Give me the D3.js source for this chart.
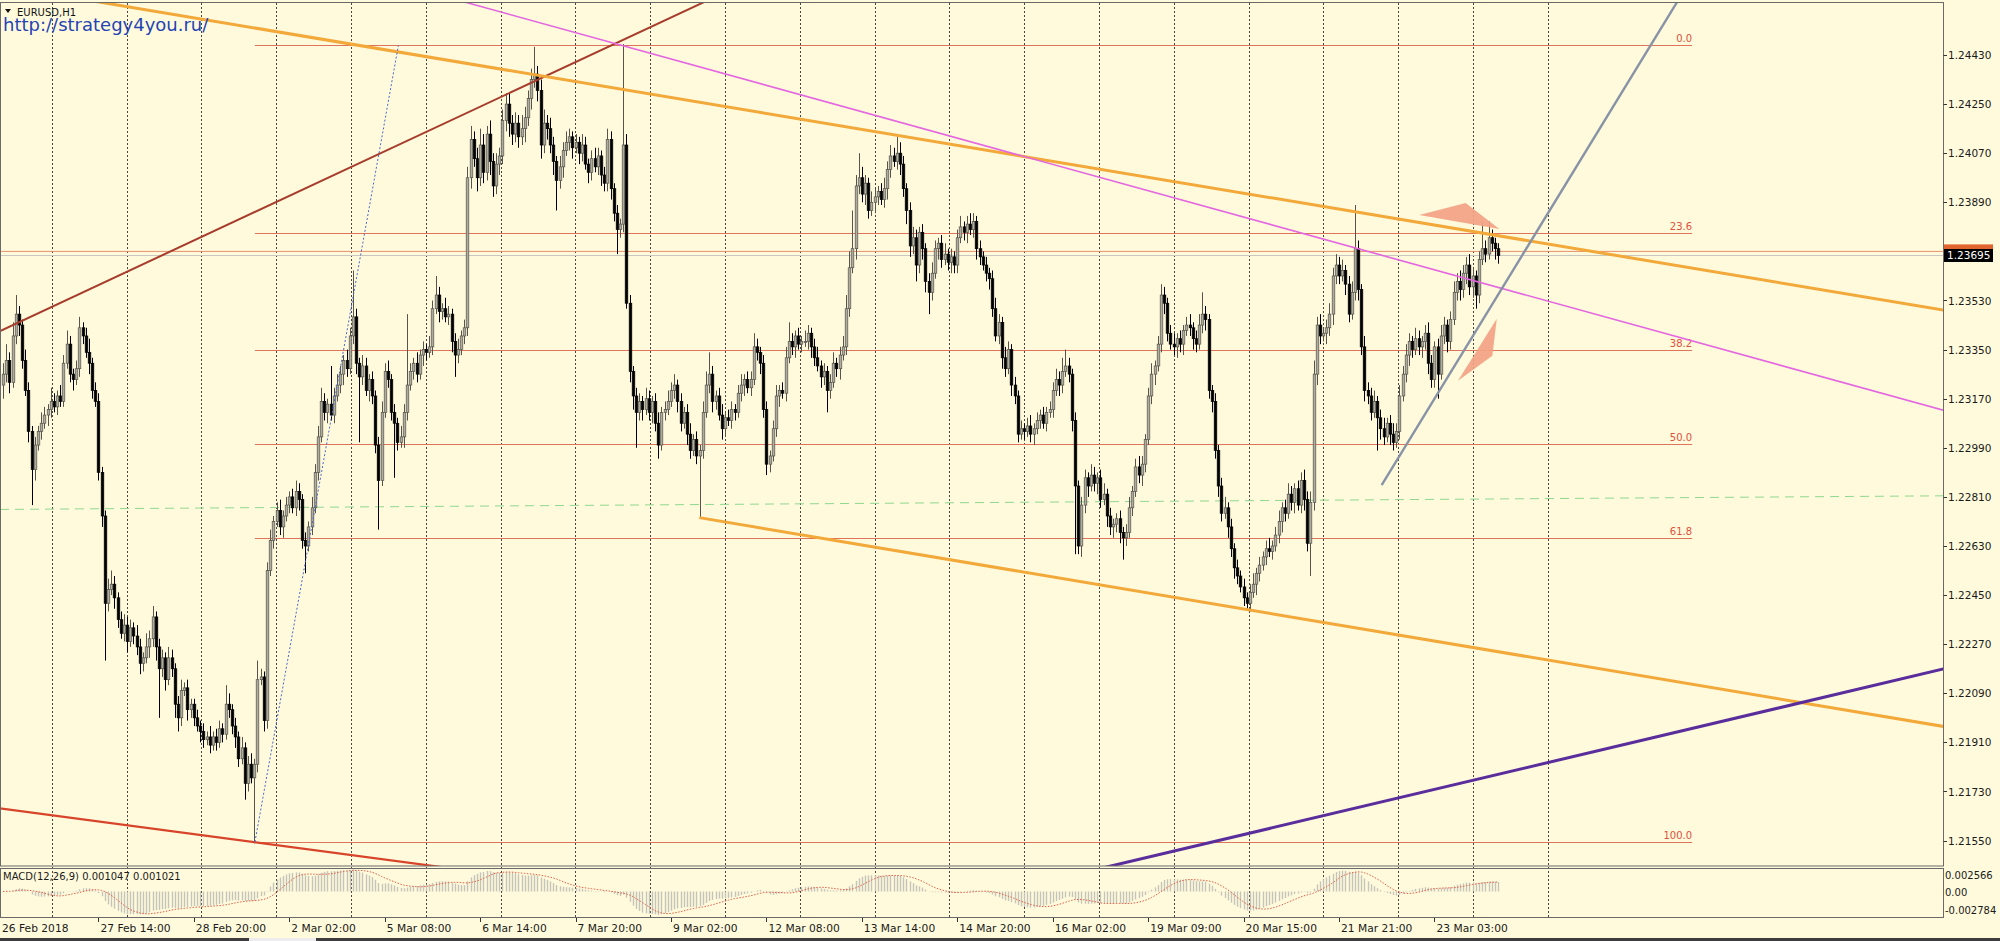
<!DOCTYPE html>
<html><head><meta charset="utf-8">
<script src="https://cdn.jsdelivr.net/npm/d3@7"></script>
<style>body{margin:0;background:#fffadc;overflow:hidden}svg{display:block;font-family:"DejaVu Sans",sans-serif}</style>
</head><body><svg id="c" width="2000" height="941"></svg>
<script>
// ---- DATA (prices in pips above 1.2000, H1 bars) ----
const firstOpen = 322;
const closes = [
326,331,323,340,348,344,331,320,305,291, 300,305,308,311,313,316,314,318,316,330,
337,326,324,328,343,340,334,330,320,316, 290,274,242,247,249,244,236,231,234,228,
233,230,226,220,222,226,229,237,226,218, 222,214,222,218,205,200,210,211,203,205,
200,197,195,192,193,190,193,191,196,194, 205,203,197,193,185,189,176,183,178,183,
214,215,199,254,265,272,276,270,274,278, 281,277,283,280,265,263,270,277,290,303,
316,312,315,311,318,322,326,331,328,340, 347,330,325,329,320,324,318,300,287,312,
327,324,312,308,301,303,312,322,327,330, 326,333,335,334,336,350,355,349,350,347,
348,338,333,335,340,343,398,412,405,398, 410,400,414,404,395,403,406,419,425,418,
414,418,413,416,420,427,434,436,430,410, 418,416,410,404,397,402,408,411,413,409,
411,407,410,403,400,405,402,406,399,396, 412,394,385,379,381,410,352,327,318,312,
316,313,317,312,316,308,300,312,313,316, 320,322,316,308,312,304,298,302,296,298,
312,322,326,316,318,311,306,310,309,313, 312,319,322,324,321,324,336,334,330,313,
293,296,306,318,320,319,332,338,336,340, 337,338,338,341,336,332,329,325,327,320,
323,330,328,333,336,350,365,372,395,398, 392,396,386,389,391,393,390,394,401,406,
404,407,403,394,386,373,376,366,378,372, 360,356,363,372,374,368,370,367,369,366,
376,380,378,381,379,382,372,369,366,363, 361,350,340,345,332,328,335,322,318,304,
306,305,307,304,306,309,311,308,312,313, 320,324,322,327,329,326,309,285,263,278,
288,285,289,286,288,280,282,274,270,271, 273,268,266,268,277,283,292,289,293,302,
318,326,329,337,355,352,341,337,336,339, 337,342,344,343,339,337,344,348,346,320,
316,298,285,275,277,270,262,255,252,248, 244,242,246,249,253,256,259,262,261,263,
267,272,277,275,282,279,284,278,287,280, 264,279,326,344,340,341,343,348,362,366,
362,364,359,348,356,372,357,336,320,318, 312,316,310,306,303,308,304,301,305,318,
326,333,338,335,339,336,338,341,330,324, 336,326,340,344,338,346,356,360,357,363,
366,358,362,355,368,372,370,376,374,372, 369.5];
const wickUp = [
4,6,3,5,7,3,2,4,3,2, 3,2,4,3,2,5,3,2,4,3, 5,3,2,3,4,2,3,5,2,3, 3,2,2,4,5,3,2,3,4,3,
3,2,4,3,2,5,3,4,2,3, 3,2,4,3,2,3,4,2,3,2, 2,3,2,3,2,4,2,3,3,2, 7,4,2,3,2,4,2,3,4,2,
7,3,2,3,4,2,3,4,2,3, 2,3,4,3,2,3,2,4,3,4, 5,3,2,14,3,4,3,2,4,3, 17,3,2,4,3,2,3,2,3,4,
3,4,2,3,2,4,3,26,3,2, 4,2,3,2,4,3,7,3,2,4, 3,2,3,4,2,3,4,5,3,4, 6,4,3,5,3,4,3,4,4,4,
3,4,3,5,4,3,4,10,3,4, 5,3,4,3,2,4,3,4,3,2, 3,2,4,3,2,3,4,3,2,3, 4,3,2,3,2,37,4,3,2,3,
3,2,4,3,2,3,4,2,3,4, 3,4,2,3,2,3,4,2,3,2, 4,5,8,3,2,3,4,2,3,3, 2,3,4,2,3,3,5,3,2,3,
3,2,3,4,2,3,4,7,3,2, 3,2,4,3,2,3,4,2,3,2, 3,4,2,3,4,5,6,14,4,9, 4,3,2,4,3,2,3,4,3,4,
3,6,4,3,2,3,4,3,2,3, 2,3,4,3,2,3,4,2,3,2, 3,4,2,3,4,3,2,3,2,3, 2,3,4,3,2,4,3,2,3,2,
3,2,3,4,2,3,2,3,2,3, 3,4,3,5,6,3,2,3,2,3, 3,2,4,3,2,3,4,2,3,2, 2,3,2,3,4,2,3,4,3,2,
3,4,2,3,4,3,2,3,4,2, 3,2,3,4,2,3,4,8,3,2, 2,3,2,3,4,2,3,2,3,2, 3,2,3,4,2,3,2,3,4,2,
3,4,2,3,4,3,2,3,3,4, 3,4,5,3,4,2,3,4,3,4, 3,4,2,3,4,16,3,2,4,3, 3,4,2,3,4,2,3,4,3,4,
3,4,3,2,4,3,2,3,4,3, 2,3,4,3,2,3,4,3,4,3, 3,4,3,2,3,10,3,6,3,2, 2];
const wickDn = [
5,3,4,2,3,4,3,2,4,13, 4,2,3,2,4,3,2,3,2,2, 2,3,4,2,3,3,2,4,3,2, 3,4,21,3,2,4,3,2,3,4,
2,3,3,4,3,2,4,3,5,18, 3,4,2,3,5,5,3,2,4,3, 3,2,4,3,2,3,2,3,2,3, 2,3,3,4,3,2,6,3,2,24,
3,2,4,3,2,3,2,3,4,2, 3,2,3,4,3,10,2,3,2,3, 2,3,4,2,3,2,3,4,3,2, 3,4,24,3,2,4,3,3,18,2,
2,3,3,20,3,2,4,3,2,3, 3,2,4,3,2,3,2,4,3,2, 3,4,8,3,2,3,3,4,3,5, 3,4,3,5,4,3,4,3,4,5,
4,3,4,3,5,3,4,3,4,5, 3,4,3,5,11,3,4,2,3,4, 2,4,3,2,4,3,2,3,4,3, 3,4,3,9,3,3,2,4,5,13,
3,4,2,3,4,3,5,2,3,2, 2,3,4,3,2,4,3,2,3,23, 3,2,3,4,3,2,4,3,2,3, 3,2,3,4,2,3,2,3,4,3,
4,3,2,3,4,2,3,2,3,4, 2,3,2,3,4,3,2,4,3,8, 3,2,3,4,2,3,3,2,4,3, 3,4,3,2,4,3,2,3,4,3,
2,3,4,3,5,4,3,6,3,4, 4,8,3,2,4,3,2,3,4,3, 3,2,3,4,2,3,4,3,2,3, 4,3,2,3,4,3,2,4,3,3,
2,3,2,3,4,2,3,2,3,2, 3,2,4,3,2,3,4,25,3,4, 3,4,2,3,4,3,2,4,3,4, 3,4,8,3,2,3,2,3,4,3,
2,3,4,2,3,4,3,2,3,4, 3,4,2,3,4,3,2,3,4,3, 4,3,4,3,2,4,3,4,3,2, 3,2,3,2,4,3,2,3,2,3,
2,3,4,3,2,3,4,2,3,4, 3,12,3,4,3,2,4,3,4,3, 3,2,4,3,2,3,4,3,4,3, 3,2,12,4,3,2,4,3,2,3,
2,3,4,3,2,3,4,3,4,3, 3,9,2,3,4,3,2,3,4,3, 4,3,4,5,3,2,3,2,3,4, 3];

const timeLabels = ["26 Feb 2018","27 Feb 14:00","28 Feb 20:00","2 Mar 02:00","5 Mar 08:00","6 Mar 14:00",
 "7 Mar 20:00","9 Mar 02:00","12 Mar 08:00","13 Mar 14:00","14 Mar 20:00","16 Mar 02:00",
 "19 Mar 09:00","20 Mar 15:00","21 Mar 21:00","23 Mar 03:00"];
const labelBars = [0,30,60,90,120,150,180,210,240,270,300,330,360,390,420,450];
const priceTicks = [1.21550,1.21730,1.21910,1.22090,1.22270,1.22450,1.22630,1.22810,1.22990,1.23170,1.23350,1.23530,1.23890,1.24070,1.24250,1.24430];
const fibLevels = [0,23.6,38.2,50,61.8,100];
const fibHigh = 1.24465, fibLow = 1.21545, fibFrom = 79.2, fibTo = 531;
const bidPrice = 1.23695, hLinePrice = 1.23710;
const macdLabels = ["0.002566","0.00","-0.002784"];
const macdText = "MACD(12,26,9) 0.001047 0.001021";
// trend lines: [bar, price]
const brownLine   = [[-0.94,1.23418],[219.1,1.24617]];
const orangeUpper = [[31.4,1.24622],[609.9,1.23495]];
const orangeLower = [[218.9,1.22734],[609.2,1.21970]];
const magentaLine = [[165.7,1.24558],[609.2,1.23130]];
const redLine     = [[-0.4,1.21667],[132,1.21462]];
const purpleLine  = [[350.1,1.21462],[609.2,1.22177]];
const grayLine    = [[433.4,1.22853],[525.9,1.24617]];
const blueDotted  = [[79.2,1.21545],[124.3,1.24465]];
const greenDashed = [[-0.94,1.22764],[609.9,1.22814]];
const triUp = [[445.2,1.23843],[459.8,1.23887],[470.4,1.23792]];
const triDn = [[469.6,1.23463],[468.2,1.23327],[457.4,1.23236]];

// ---- LAYOUT ----
const svg = d3.select("#c");
const plotR = 1943, plotT = 3, plotB = 866, mT = 868, mB = 917;
const px = v => 1.2 + v/10000;
const x = d3.scaleLinear().domain([0,610]).range([3, 3+610*3.181]);
const y = d3.scaleLinear().domain([1.2155,1.2443]).range([840.6,55]);
const yM = d3.scaleLinear().domain([-0.002784,0.002566]).range([mB,mT]);

svg.append("rect").attr("width",2000).attr("height",941).attr("fill","#fffadc");
const defs = svg.append("defs");
defs.append("clipPath").attr("id","cp").append("rect").attr("x",0).attr("y",plotT).attr("width",plotR).attr("height",plotB-plotT);
defs.append("clipPath").attr("id","cm").append("rect").attr("x",0).attr("y",mT).attr("width",plotR).attr("height",mB-mT);

// grid (vertical dashed)
const gridBars = d3.range(0,21).map(k=>15.31+23.515*k);
svg.append("g").selectAll("line").data(gridBars).join("line")
 .attr("x1",d=>Math.round(x(d))+0.5).attr("x2",d=>Math.round(x(d))+0.5).attr("y1",plotT).attr("y2",mB)
 .attr("stroke","#454545").attr("stroke-width",1).attr("stroke-dasharray","2,2");

const P = svg.append("g").attr("clip-path","url(#cp)");
const line = d3.line().x(d=>x(d[0])).y(d=>y(d[1]));
// fib lines
const fibG = P.append("g");
fibLevels.forEach(l=>{
  const pv = fibHigh - (fibHigh-fibLow)*l/100;
  fibG.append("line").attr("x1",x(fibFrom)).attr("x2",x(fibTo)).attr("y1",Math.round(y(pv))+0.5).attr("y2",Math.round(y(pv))+0.5)
    .attr("stroke","#e0735c").attr("stroke-width",1);
  fibG.append("text").attr("x",x(fibTo)).attr("y",y(pv)-3).attr("text-anchor","end")
    .attr("font-size","10px").attr("fill","#e0503c").text(l.toFixed(1));
});
// horizontal lines
P.append("line").attr("x1",0).attr("x2",plotR).attr("y1",y(hLinePrice)).attr("y2",y(hLinePrice)).attr("stroke","#e8906c").attr("stroke-width",1);
P.append("line").attr("x1",0).attr("x2",plotR).attr("y1",y(bidPrice)).attr("y2",y(bidPrice)).attr("stroke","#c8c8c0").attr("stroke-width",1);
// green dashed
P.append("path").attr("d",line(greenDashed)).attr("fill","none").attr("stroke","#90d890").attr("stroke-width",1).attr("stroke-dasharray","9,6");

// candles
const bars = closes.map((c,i)=>{const o=i?closes[i-1]:firstOpen;
  return {i,o:px(o),c:px(c),h:px(Math.max(o,c)+wickUp[i]),l:px(Math.min(o,c)-wickDn[i])};});
const cg = P.append("g");
bars.forEach(b=>{
  const bull = b.c>=b.o, cx = Math.round(x(b.i))+0.5;
  cg.append("line").attr("x1",cx).attr("x2",cx).attr("y1",y(b.h)).attr("y2",y(b.l))
    .attr("stroke",bull?"#55554d":"#000").attr("stroke-width",1);
  const top=y(Math.max(b.o,b.c)), bot=y(Math.min(b.o,b.c));
  cg.append("rect").attr("x",cx-1.3).attr("width",2.6).attr("y",top).attr("height",Math.max(1,bot-top))
    .attr("fill",bull?"#aeac9c":"#000").attr("stroke",bull?"#55554d":"#000").attr("stroke-width",0.7);
});

// trend lines
function lineTo(pts, mode){
  const [a,b]=pts, s=(b[1]-a[1])/(b[0]-a[0]);
  if(mode==="full") return [[-5, a[1]+s*(-5-a[0])],[620, a[1]+s*(620-a[0])]];
  if(mode==="ray") return [a,[620, a[1]+s*(620-a[0])]];
  return pts;
}
const tl = [
 [brownLine,"#a83c2c",2,null,"full"],
 [orangeUpper,"#f2a93a",3,null,"full"],
 [orangeLower,"#f2a93a",3,null,"ray"],
 [magentaLine,"#e466e0",1.6,null,"full"],
 [redLine,"#d8442a",2.2,null,"full"],
 [purpleLine,"#5a2d9c",3,null,"full"],
 [grayLine,"#8894a6",2.4,null,"ray"],
 [blueDotted,"#4a66cc",1,"2,2","seg"]
];
tl.forEach(([pts,col,w,dash,mode])=>{
  P.append("path").attr("d",line(lineTo(pts,mode))).attr("fill","none").attr("stroke",col).attr("stroke-width",w)
   .attr("stroke-dasharray",dash);
});
// triangles
[triUp,triDn].forEach(t=>P.append("path").attr("d",line(t)+"Z").attr("fill","#f3a284").attr("opacity",0.92));

// frames
svg.append("rect").attr("x",0.5).attr("y",plotT-0.5).attr("width",plotR).attr("height",plotB-plotT+0.5).attr("fill","none").attr("stroke","#6a6a6a");
svg.append("rect").attr("x",0.5).attr("y",mT+0.5).attr("width",plotR).attr("height",mB-mT).attr("fill","none").attr("stroke","#6a6a6a");

// price axis
const ax = svg.append("g");
priceTicks.forEach(t=>{
  ax.append("line").attr("x1",plotR+0.5).attr("x2",plotR+4).attr("y1",Math.round(y(t))+0.5).attr("y2",Math.round(y(t))+0.5).attr("stroke","#333");
  ax.append("text").attr("x",1948).attr("y",y(t)+4).attr("font-size","10.5px").attr("fill","#1a1a1a").text(t.toFixed(5));
});
ax.append("rect").attr("x",1944).attr("y",y(hLinePrice)-7).attr("width",49).attr("height",13).attr("fill","#e2642e");
ax.append("rect").attr("x",1944).attr("y",y(bidPrice)-6.5).attr("width",49).attr("height",13).attr("fill","#000");
ax.append("text").attr("x",1947).attr("y",y(bidPrice)+4).attr("font-size","10.5px").attr("fill","#fff").text(bidPrice.toFixed(5));

// MACD (12,26,9) computed from the closes
const cl = bars.map(b=>b.c); let e12=cl[0], e26=cl[0]; const macd=[];
cl.forEach((c,i)=>{ if(i){e12+= (2/13)*(c-e12); e26+=(2/27)*(c-e26);} macd.push(e12-e26); });
const sig = macd.map((m,i)=>d3.mean(macd.slice(Math.max(0,i-8),i+1)));
const M = svg.append("g").attr("clip-path","url(#cm)");
M.selectAll("line").data(macd).join("line")
 .attr("x1",(d,i)=>Math.round(x(i))+0.5).attr("x2",(d,i)=>Math.round(x(i))+0.5)
 .attr("y1",yM(0)).attr("y2",d=>yM(d)).attr("stroke","#c4c4ba").attr("stroke-width",1.4);
M.append("path").attr("d",d3.line().x((d,i)=>x(i)).y(d=>yM(d))(sig)).attr("fill","none")
 .attr("stroke","#e06048").attr("stroke-width",1).attr("stroke-dasharray","1.5,1.5");
svg.append("text").attr("x",3).attr("y",mT+12).attr("font-size","10px").attr("fill","#1a1a1a").text(macdText);
[[macdLabels[0],0.002566,"top"],[macdLabels[1],0,"mid"],[macdLabels[2],-0.002784,"bot"]].forEach(([t,v,p])=>{
  const yy = p==="top"? mT+11 : p==="bot"? mB-3 : yM(v)+4;
  svg.append("text").attr("x",1945).attr("y",yy).attr("font-size","10px").attr("fill","#1a1a1a").text(t);
});

// time axis
const tg = svg.append("g");
timeLabels.forEach((t,k)=>{
  const xx = k===0?2:x(labelBars[k]);
  if(k>0) tg.append("line").attr("x1",Math.round(xx)+0.5).attr("x2",Math.round(xx)+0.5).attr("y1",mB+1).attr("y2",mB+5).attr("stroke","#333");
  tg.append("text").attr("x",k===0?2:xx+2).attr("y",932).attr("font-size","10.7px").attr("fill","#1a1a1a").text(t);
});
// bottom strip
svg.append("rect").attr("x",0).attr("y",938).attr("width",2000).attr("height",3).attr("fill","#3c3c3c");
svg.append("rect").attr("x",249).attr("y",938).attr("width",67).attr("height",3).attr("fill","#ececec");

// header
svg.append("path").attr("d","M5,9 L11,9 L8,13 Z").attr("fill","#111");
svg.append("text").attr("x",17).attr("y",15.5).attr("font-size","10px").attr("fill","#111").text("EURUSD,H1");
svg.append("text").attr("x",3).attr("y",31).attr("font-size","18px").attr("fill","#2444b4").text("http://strategy4you.ru/");
</script></body></html>
